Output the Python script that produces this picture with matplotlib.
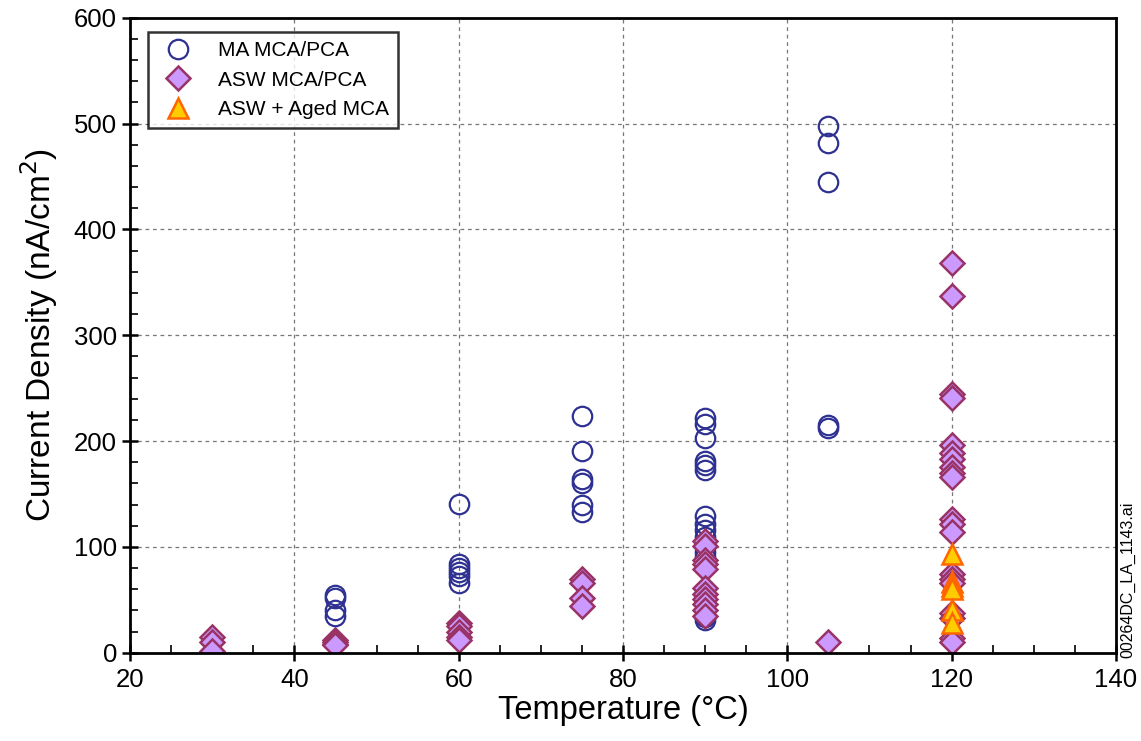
import matplotlib
matplotlib.use('Agg')
import matplotlib.pyplot as plt
from matplotlib.ticker import MultipleLocator

plt.rcParams['font.family'] = ['Liberation Sans', 'DejaVu Sans']

# MA MCA/PCA (open circles)
ma_temp = [45] * 4 + [60] * 6 + [75] * 6 + [90] * 14 + [105] * 5
ma_cd = [55, 52, 40, 35,
         141, 84, 80, 76, 73, 66,
         224, 191, 164, 160, 140, 133,
         222, 216, 203, 181, 177, 173, 129, 122, 116, 109, 95, 91, 34, 31,
         498, 482, 445, 215, 212]

# ASW MCA/PCA (diamonds)
asw_temp = [30] * 3 + [45] * 4 + [60] * 5 + [75] * 4 + [90] * 11 + [105] * 1 + [120] * 20
asw_cd = [15, 10, 2,
          12, 10, 8, 7,
          28, 25, 20, 15, 12,
          70, 66, 52, 44,
          106, 101, 88, 84, 79, 61, 56, 51, 46, 40, 35,
          10,
          368, 337, 245, 241, 196, 189, 183, 176, 170, 166,
          126, 122, 114, 74, 70, 66, 38, 33, 14, 10]

# ASW + Aged MCA (triangles)
aged_temp = [120] * 6
aged_cd = [93, 67, 63, 60, 40, 28]

fig = plt.figure(figsize=(11.41, 7.41), dpi=100)
ax = fig.add_axes([0.114, 0.119, 0.864, 0.857])

ax.plot(ma_temp, ma_cd, ls='none', marker='o', ms=14, mfc='none',
        mec='#2E3192', mew=1.6, label='MA MCA/PCA')
ax.plot(asw_temp, asw_cd, ls='none', marker='D', ms=12, mfc='#CC99FF',
        mec='#993366', mew=1.8, label='ASW MCA/PCA')
ax.plot(aged_temp, aged_cd, ls='none', marker='^', ms=15, mfc='#FFCC00',
        mec='#FF6600', mew=1.8, label='ASW + Aged MCA')

ax.set_xlim(20, 140)
ax.set_ylim(0, 600)
ax.xaxis.set_major_locator(MultipleLocator(20))
ax.xaxis.set_minor_locator(MultipleLocator(5))
ax.yaxis.set_major_locator(MultipleLocator(100))
ax.yaxis.set_minor_locator(MultipleLocator(20))
ax.tick_params(which='major', direction='inout', length=12, width=1.8, labelsize=18.5)
ax.tick_params(which='minor', direction='in', length=6, width=1.2)
ax.tick_params(axis='x', pad=5)
ax.grid(True, which='major', ls=(0, (3, 3)), color='#777777', lw=0.9)
ax.set_axisbelow(True)
for s in ax.spines.values():
    s.set_linewidth(2)

ax.set_xlabel('Temperature (°C)', fontsize=23.5, labelpad=2)
ax.set_ylabel('Current Density (nA/cm$^2$)', fontsize=24, labelpad=10)

leg = ax.legend(loc='upper left', bbox_to_anchor=(0.018, 0.978), borderaxespad=0,
                fontsize=15, frameon=True, fancybox=False, edgecolor='black',
                borderpad=0.45, handletextpad=0.9, labelspacing=0.5, numpoints=1)
leg.get_frame().set_linewidth(1.8)

fig.text(0.988, 0.218, '00264DC_LA_1143.ai', rotation=90, fontsize=11.5,
         ha='center', va='center')

fig.savefig('out.png', dpi=100)
